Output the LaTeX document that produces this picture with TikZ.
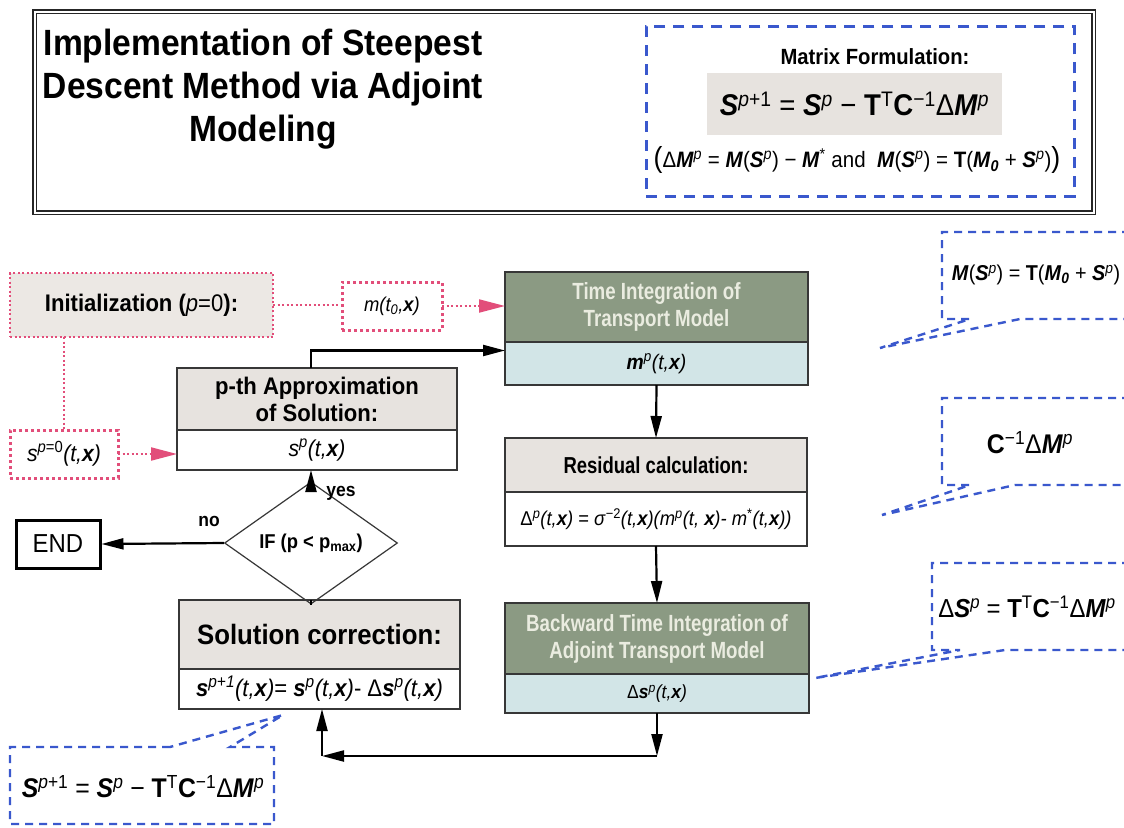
\documentclass[tikz,border=0pt]{standalone}
\usepackage{fontspec}
\setmainfont{Liberation Sans}[FakeStretch=0.92]
\newfontfamily\narrowf{Liberation Sans}[FakeStretch=0.8]
\usetikzlibrary{arrows.meta,shapes.geometric}
\definecolor{hdrgray}{RGB}{231,227,223}
\definecolor{hdrgreen}{RGB}{139,154,131}
\definecolor{bodyblue}{RGB}{210,229,231}
\definecolor{hdrtext}{RGB}{234,236,224}
\definecolor{pinkc}{RGB}{226,78,122}
\definecolor{bluec}{RGB}{58,88,205}
\definecolor{boxc}{RGB}{55,55,55}
\definecolor{initfill}{RGB}{236,232,228}
\newcommand{\bi}[1]{\textbf{\textit{#1}}}
\newcommand{\upx}[1]{\textsuperscript{#1}}
\newcommand{\lox}[1]{\textsubscript{#1}}
\newcommand{\mainEq}{\bi{S}\upx{\textit{p}+1} = \bi{S}\upx{\textit{p}} − \textbf{T}\upx{T}\textbf{C}\upx{−1}Δ\bi{M}\upx{\textit{p}}}
\newcommand{\Mdef}{\bi{M}(\bi{S}\upx{\textit{p}}) = \textbf{T}(\bi{M}\lox{\bi{0}} + \bi{S}\upx{\textit{p}})}
\tikzset{
  box/.style={draw=boxc, line width=1.4pt, inner sep=0pt, outer sep=0pt, anchor=north west, align=center},
  hgray/.style={box, fill=hdrgray},
  hgreen/.style={box, fill=hdrgreen, text=hdrtext, font=\narrowf\bfseries\fontsize{23.4}{27}\selectfont},
  bwhite/.style={box, fill=white, font=\fontsize{20}{24}\selectfont},
  bblue/.style={box, fill=bodyblue, font=\fontsize{20}{24}\selectfont},
  pinkdot/.style={draw=pinkc, line width=2pt, dash pattern=on 2pt off 2.5pt},
  pinkbox/.style={draw=pinkc, line width=3pt, dash pattern=on 3pt off 3pt, inner sep=0pt, outer sep=0pt, anchor=north west},
  arr/.style={draw=black, line width=2.2pt, -{Triangle[length=22pt,width=11pt]}},
  parr/.style={pinkdot, -{Triangle[length=26pt,width=13pt,fill=pinkc]}},
  callout/.style={draw=bluec, line width=2.4pt, dash pattern=on 8pt off 6pt},
  lbl/.style={inner sep=0pt, font=\bfseries\fontsize{19}{22}\selectfont},
}
\begin{document}
\begin{tikzpicture}[x=1pt,y=-1pt]
\useasboundingbox[fill=white] (0,0) rectangle (1124,827);
% title block
\node[draw=black!85, double=white, double distance=2.2pt, line width=1.3pt, minimum width=1059pt, minimum height=201pt, anchor=north west, inner sep=0pt] (tbox) at (34,11) {};
\node[anchor=north, inner sep=0pt, align=center, font=\bfseries\fontsize{36.5}{43}\selectfont] (title) at (263,29) {Implementation of Steepest\\Descent Method via Adjoint\\Modeling};
\node[draw=bluec, line width=2.6pt, dash pattern=on 11pt off 8pt, minimum width=428pt, minimum height=170pt, anchor=north west, inner sep=0pt] (mfbox) at (645,25) {};
\node[inner sep=0pt, font=\bfseries\fontsize{22}{26}\selectfont] (mftitle) at (875,57) {Matrix Formulation:};
\node[fill=hdrgray, minimum width=295pt, minimum height=62pt, inner sep=0pt, font=\fontsize{30}{34}\selectfont] (mfeq) at (854.5,104) {\mainEq};
\node[inner sep=0pt, font=\fontsize{22.3}{25}\selectfont] (mfdef) at (857,160) {{\fontsize{29}{29}\selectfont(}Δ\bi{M}\upx{\textit{p}} = \bi{M}(\bi{S}\upx{\textit{p}}) − \bi{M}\upx{*} and \ \Mdef{\fontsize{29}{29}\selectfont)}};
% flowchart
\node[box, draw=pinkc, line width=2pt, dash pattern=on 2pt off 2.5pt, fill=initfill, minimum width=263pt, minimum height=64pt, font=\fontsize{24}{28}\selectfont] (init) at (10,273) {\textbf{Initialization (}\textit{p}=0\textbf{):}};
\node[pinkbox, minimum width=100pt, minimum height=48pt, font=\fontsize{20}{24}\selectfont] (mbox) at (342,282) {\textit{m(t\lox{0},\textbf{x})}};
\node[pinkbox, minimum width=108pt, minimum height=48pt, font=\fontsize{23}{26}\selectfont] (s0) at (10,430) {\textit{s}\upx{\textit{p}=0}\textit{(t,\textbf{x})}};
\node[hgray, font=\bfseries\fontsize{24}{27}\selectfont, minimum width=280pt, minimum height=62pt] (pthH) at (177,368) {p-th Approximation\\of Solution:};
\node[bwhite, font=\fontsize{23}{26}\selectfont, minimum width=280pt, minimum height=40pt, anchor=north] (pthB) at (pthH.south) {\textit{s}\upx{\textit{p}}\textit{(t,\textbf{x})}};
\node[hgreen, minimum width=303pt, minimum height=70pt] (timeH) at (505,272) {Time Integration of\\Transport Model};
\node[bblue, font=\fontsize{21}{24}\selectfont, minimum width=303pt, minimum height=43pt, anchor=north] (timeB) at (timeH.south) {\bi{m}\upx{\textit{p}}\textit{(t,\textbf{x})}};
\node[hgray, font=\narrowf\bfseries\fontsize{23.1}{26}\selectfont, minimum width=302pt, minimum height=54pt] (resH) at (505,438) {Residual calculation:};
\node[bwhite, font=\fontsize{20}{23}\selectfont, minimum width=302pt, minimum height=54pt, anchor=north] (resB) at (resH.south) {Δ\upx{\textit{p}}\textit{(t,\textbf{x})} = \textit{σ}\upx{−2}\textit{(t,\textbf{x})(m}\upx{\textit{p}}\textit{(t, \textbf{x})- m}\upx{*}\textit{(t,\textbf{x}))}};
\node[hgreen, minimum width=304pt, minimum height=71pt] (backH) at (505,603) {Backward Time Integration of\\Adjoint Transport Model};
\node[bblue, font=\fontsize{19}{22}\selectfont, minimum width=304pt, minimum height=39pt, anchor=north] (backB) at (backH.south) {Δ\bi{s}\upx{\textit{p}}\textit{(t,\textbf{x})}};
\node[hgray, font=\bfseries\fontsize{28}{32}\selectfont, minimum width=281pt, minimum height=69pt] (solH) at (179,600) {Solution correction:};
\node[bwhite, font=\fontsize{24}{27}\selectfont, minimum width=281pt, minimum height=40pt, anchor=north] (solB) at (solH.south) {\bi{s}\upx{\textit{p+1}}\textit{(t,\textbf{x})}= \bi{s}\upx{\textit{p}}\textit{(t,\textbf{x})}- Δ\bi{s}\upx{\textit{p}}\textit{(t,\textbf{x})}};
\node[diamond, draw=boxc, line width=1.2pt, minimum width=173pt, minimum height=77pt, inner sep=0pt, font=\bfseries\fontsize{20}{22}\selectfont] (dia) at (311,543) {IF (p < p\lox{max})};
\node[draw=black, line width=3pt, minimum width=84pt, minimum height=48pt, inner sep=0pt, font=\fontsize{26}{30}\selectfont] (endb) at (58,544) {END};
% connectors
\draw[pinkdot] (init.east) -- (init.east -| mbox.west);
\draw[parr] (mbox.east) -- (mbox.east -| timeH.west);
\draw[pinkdot] (s0.north |- init.south) -- (s0.north);
\draw[parr] (s0.east) -- (s0.east -| pthB.west);
\draw[arr] ([xshift=-6pt]pthH.north) |- ([yshift=13pt]timeB.west);
\draw[arr] (timeB.south) -- (resH.north);
\draw[arr] (resB.south) -- (backH.north);
\coordinate (c1) at (backB.south |- 0,756);
\coordinate (c2) at (322,756);
\draw[arr] (backB.south) -- (c1);
\draw[arr] (c1) -- (c2);
\draw[arr] (c2) -- (c2 |- solB.south);
\draw[line width=2pt] (dia.south) -- (dia.south |- solH.north);
\draw[arr] (dia.north) -- (dia.north |- pthB.south);
\node[lbl] (yes) at (341,493) {yes};
\draw[arr] (dia.west) -- (endb.east);
\node[lbl] (no) at (209,521) {no};
% callouts
\coordinate (t1) at (880,348);
\draw[callout] (1130,232) -- (942,232) -- (942,319) -- (970,319) -- (t1) -- (1020,319) -- (1130,319);
\node[inner sep=0pt, font=\fontsize{21.5}{24}\selectfont] (co1) at (1036,275) {\Mdef};
\coordinate (t2) at (882,515);
\draw[callout] (1130,398) -- (942,398) -- (942,485) -- (970,485) -- (t2) -- (1015,485) -- (1130,485);
\node[inner sep=0pt, font=\fontsize{27}{30}\selectfont] (co2) at (1030,443) {\textbf{C}\upx{−1}Δ\bi{M}\upx{\textit{p}}};
\coordinate (t3) at (815,678);
\draw[callout] (1130,563) -- (932,563) -- (932,650) -- (960,650) -- (t3) -- (1005,650) -- (1130,650);
\node[inner sep=0pt, font=\fontsize{26}{29}\selectfont] (co3) at (1027,607) {Δ\bi{S}\upx{\textit{p}} = \textbf{T}\upx{T}\textbf{C}\upx{−1}Δ\bi{M}\upx{\textit{p}}};
\coordinate (t4) at (283,715);
\draw[callout] (170,747) -- (10,747) -- (10,824) -- (274,824) -- (274,747) -- (230,747) -- (t4) -- cycle;
\node[inner sep=0pt, font=\fontsize{27}{30}\selectfont] (co4) at (143,787) {\mainEq};
\end{tikzpicture}
\end{document}
